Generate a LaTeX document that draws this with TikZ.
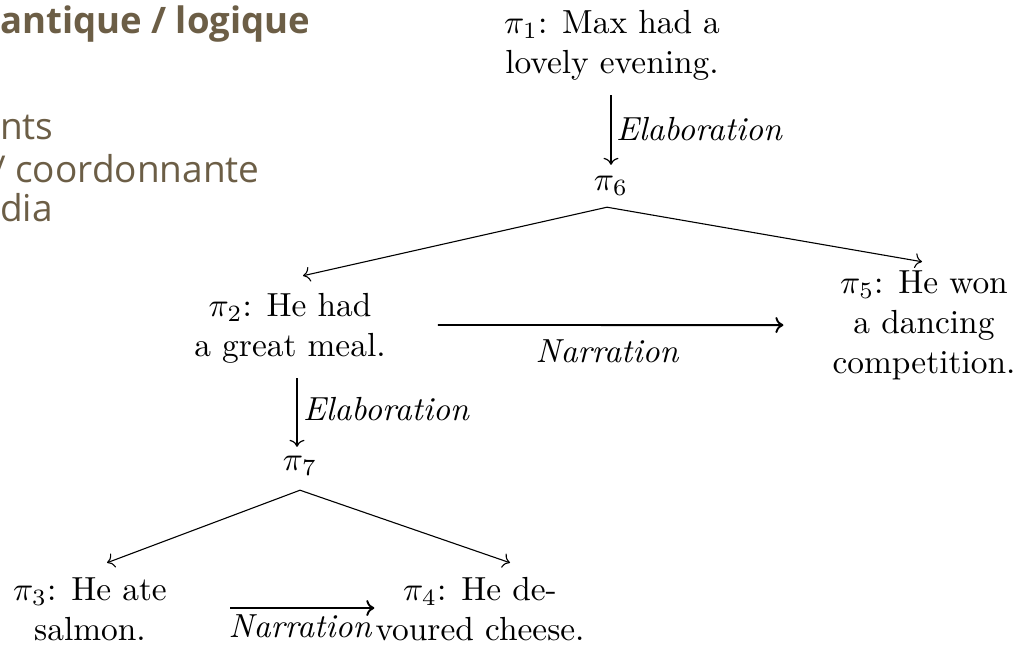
\documentclass[tikz,border=0pt]{standalone}
\usepackage{fontspec}
\usepackage{graphicx}
\newfontfamily\osans{Open Sans}
\usetikzlibrary{arrows.meta}
\definecolor{olive}{RGB}{108,94,70}
\newcommand{\enlargetxt}[1]{\scalebox{3.34}{#1}}
\newcommand{\twolines}[2]{\enlargetxt{\begin{tabular}[t]{@{}c@{}}#1\\ #2\end{tabular}}}
\newcommand{\threelines}[3]{\enlargetxt{\begin{tabular}[t]{@{}c@{}}#1\\ #2\\ #3\end{tabular}}}
\begin{document}
\begin{tikzpicture}[x=1pt,y=-1pt,
  txt/.style={inner sep=0pt,anchor=base,font=\fontsize{10}{12}\selectfont},
  pinode/.style={txt,text height=14pt,text depth=5pt},
  lab/.style={inner sep=0pt,font=\fontsize{10}{12}\selectfont\itshape},
  side/.style={inner sep=0pt,anchor=base west,text=olive,font=\osans\fontsize{37}{40}\selectfont},
  rel/.style={line width=1.2pt,-{To[length=7pt,width=15pt]}},
  narr/.style={line width=1.9pt,-{To[length=8pt,width=16pt]}},
  branch/.style={line width=1.1pt,-{To[length=7pt,width=15pt]}}]
\useasboundingbox (0,0) rectangle (1028,646);
\clip (0,0) rectangle (1028,646);
% side text (cropped slide)
\node[side,font=\osans\bfseries\fontsize{36.5}{40}\selectfont] (t0) at (0,33) {antique / logique};
\node[side] (t1) at (0,139) {nts};
\node[side] (t2) at (-8,182) {/ coordonnante};
\node[side] (t3) at (0,221) {dia};
% tree nodes
\node[txt] (p1) at (612,33) {\twolines{$\pi_1$: Max had a}{lovely evening.}};
\node[pinode] (p6) at (611,190) {\enlargetxt{$\pi_6$}};
\node[txt] (p2) at (290,316) {\twolines{$\pi_2$: He had}{a great meal.}};
\node[txt] (p5) at (924,293) {\threelines{$\pi_5$: He won}{a dancing}{competition.}};
\node[pinode] (p7) at (300,470) {\enlargetxt{$\pi_7$}};
\node[txt] (p3) at (90,600) {\twolines{$\pi_3$: He ate}{salmon.}};
\node[txt] (p4) at (480,600) {\twolines{$\pi_4$: He de-}{voured cheese.}};
% labels
\node[lab,anchor=base west] (l1) at (616,140) {\enlargetxt{Elaboration}};
\node[lab,anchor=base west] (l2) at (303,420) {\enlargetxt{Elaboration}};
\node[lab,anchor=base] (l3) at (607,362) {\enlargetxt{Narration}};
\node[lab,anchor=base] (l4) at (300,637) {\enlargetxt{Narration}};
% connectors
\draw[rel] ([xshift=-1pt,yshift=-10pt]p1.south) -- ([yshift=11pt]p6.north);
\draw[branch] ([xshift=-4pt,yshift=-12pt]p6.south) -- ([xshift=13pt,yshift=12pt]p2.north);
\draw[branch] ([xshift=-4pt,yshift=-12pt]p6.south) -- ([xshift=-2pt,yshift=3pt]p5.north);
\draw[narr] ([xshift=52pt,yshift=3pt]p2.east) -- ([xshift=-49pt]p5.west);
\draw[rel] ([xshift=7pt,yshift=-10pt]p2.south) -- ([xshift=-3pt,yshift=9pt]p7.north);
\draw[branch] ([yshift=-15pt]p7.south) -- ([xshift=17pt,yshift=9pt]p3.north);
\draw[branch] ([yshift=-15pt]p7.south) -- ([xshift=30pt,yshift=9pt]p4.north);
\draw[narr] ([xshift=63pt,yshift=4pt]p3.east) -- ([xshift=-1pt,yshift=4pt]p4.west);
\end{tikzpicture}
\end{document}
